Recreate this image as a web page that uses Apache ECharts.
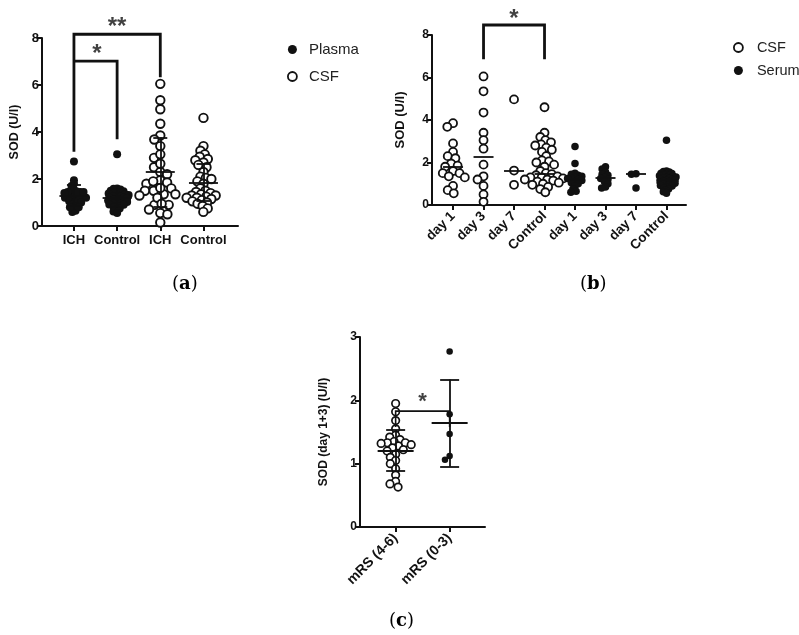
<!DOCTYPE html>
<html><head><meta charset="utf-8">
<script src="https://cdn.jsdelivr.net/npm/echarts@6/dist/echarts.min.js"></script>
<style>html,body{margin:0;padding:0;background:#fff}#c{width:799px;height:635px}</style>
</head><body><div id="c"></div>
<script>
// ---------- DATA ----------
// Panel (b): CSF
const csfDay1 = [3.85, 3.68, 2.9, 2.5, 2.3, 2.2, 1.95, 1.85, 1.8, 1.6, 1.5, 1.5, 1.35, 1.3, 0.9, 0.7, 0.55];
const csfDay3 = [6.05, 5.35, 4.35, 3.4, 3.05, 2.65, 1.9, 1.35, 1.2, 0.9, 0.5, 0.15];
const csfDay7 = [4.97, 1.62, 0.95];
const csfControl = [4.6, 3.4, 3.2, 3.05, 2.95, 2.85, 2.8, 2.7, 2.6, 2.5, 2.3, 2.1, 2.05, 2.0, 1.9, 1.8, 1.6, 1.5, 1.45, 1.4, 1.35, 1.3, 1.3, 1.25, 1.2, 1.2, 1.15, 1.1, 1.05, 1.0, 0.95, 0.85, 0.75, 0.6];
// Panel (b): Serum
const serumDay1 = [2.75, 1.95, 1.5, 1.45, 1.4, 1.35, 1.3, 1.25, 1.25, 1.2, 1.15, 1.1, 1.05, 1.0, 0.9, 0.75, 0.65, 0.6];
const serumDay3 = [1.8, 1.7, 1.55, 1.45, 1.4, 1.3, 1.25, 1.2, 1.1, 1.0, 0.85, 0.8];
const serumDay7 = [1.47, 1.45, 0.8];
const serumControl = [3.05, 1.6, 1.58, 1.55, 1.5, 1.48, 1.45, 1.42, 1.4, 1.38, 1.35, 1.32, 1.3, 1.28, 1.25, 1.22, 1.2, 1.18, 1.15, 1.12, 1.1, 1.08, 1.05, 1.02, 1.0, 0.98, 0.95, 0.92, 0.9, 0.85, 0.8, 0.75, 0.7, 0.62, 0.55];
const catsB = ['day 1', 'day 3', 'day 7', 'Control', 'day 1', 'day 3', 'day 7', 'Control'];
const medianB = [1.8, 2.27, 1.62, 1.45, 1.2, 1.3, 1.45, 1.2];
// Panel (a): groups (ICH = all days pooled)
const catsA = ['ICH', 'Control', 'ICH', 'Control'];
const plasmaICH = serumDay1.concat(serumDay3, serumDay7);
const plasmaControl = serumControl;
const csfICH = csfDay1.concat(csfDay3, csfDay7);
const meanA = [1.3, 1.2, 2.3, 1.86];
const sdA = [0.44, 0.4, 1.47, 0.8];
// Panel (c)
const catsC = ['mRS (4-6)', 'mRS (0-3)'];
const mrs46 = [1.95, 1.82, 1.68, 1.55, 1.45, 1.42, 1.38, 1.35, 1.33, 1.33, 1.32, 1.3, 1.28, 1.25, 1.22, 1.2, 1.15, 1.1, 1.05, 1.0, 0.92, 0.82, 0.72, 0.68, 0.63];
const mrs03 = [2.77, 1.78, 1.47, 1.12, 1.06];
const meanC = [1.21, 1.64];
const sdC = [0.32, 0.69];
const yTicksA = [0, 2, 4, 6, 8];
const yTicksC = [0, 1, 2, 3];

// ---------- LAYOUT ----------
const G = {
  a: {left: 42, top: 38, width: 196, height: 188, xmin: 0.26, xmax: 4.8, ymax: 8},
  b: {left: 432, top: 35, width: 254, height: 170, xmin: 0.31, xmax: 8.64, ymax: 8},
  c: {left: 360, top: 337, width: 125, height: 190, xmin: 0.34, xmax: 2.655, ymax: 3}
};
for (const k in G) { const g = G[k]; g.px = g.width / (g.xmax - g.xmin); g.py = g.height / g.ymax; }

// deterministic beeswarm layout (x offsets only; values unchanged)
function swarm(values, pos, g, sep) {
  const idx = values.map((v, i) => i).sort((a, b) => values[b] - values[a]);
  const placed = [], out = new Array(values.length);
  for (const i of idx) {
    const y = values[i] * g.py;
    const cands = [0];
    for (const p of placed) {
      const dy = Math.abs(p.y - y);
      if (dy < sep) { const dx = Math.sqrt(sep * sep - dy * dy); cands.push(p.x + dx, p.x - dx); }
    }
    cands.sort((a, b) => Math.abs(a) - Math.abs(b) || a - b);
    let best = 0;
    for (const c of cands) {
      if (placed.every(p => (p.x - c) ** 2 + (p.y - y) ** 2 >= sep * sep - 1e-6)) { best = c; break; }
    }
    placed.push({x: best, y});
    out[i] = [pos + best / g.px, values[i]];
  }
  return out;
}

const FONT = 'Liberation Sans, Arial, sans-serif';
const BLACK = '#111';
const series = [];
function pts(gi, g, name, values, pos, filled, size, sep, bw) {
  series.push({
    type: 'scatter', name, xAxisIndex: gi, yAxisIndex: gi, symbol: 'circle', symbolSize: size,
    data: swarm(values, pos, g, sep), z: 3, clip: false,
    itemStyle: filled ? {color: BLACK, borderWidth: 0, opacity: 1} : {color: '#fff', borderColor: BLACK, borderWidth: bw || 1.8, opacity: 1},
    emphasis: {disabled: true}
  });
}
function segs(gi, list, width, polyline) {
  series.push({
    type: 'lines', coordinateSystem: 'cartesian2d', xAxisIndex: gi, yAxisIndex: gi,
    polyline: !!polyline, clip: false, z: 5, silent: true,
    lineStyle: {color: BLACK, width: width, opacity: 1},
    data: list.map(c => ({coords: c}))
  });
}
function hseg(g, pos, y, hw) { return [[pos - hw / g.px, y], [pos + hw / g.px, y]]; }
function star(gi, x, y, txt, size) {
  series.push({
    type: 'scatter', xAxisIndex: gi, yAxisIndex: gi, symbolSize: 1, clip: false, silent: true,
    itemStyle: {color: 'rgba(0,0,0,0)'}, z: 6,
    label: {show: true, position: 'inside', formatter: '{b}', color: BLACK, fontSize: size, fontWeight: 'bold', fontFamily: FONT},
    data: [{name: txt, value: [x, y]}]
  });
}

// Panel (a)
pts(0, G.a, 'Plasma', plasmaICH, 1, true, 8, 3.4);
pts(0, G.a, 'Plasma', plasmaControl, 2, true, 8, 3.5);
pts(0, G.a, 'CSF', csfICH, 3, false, 8.5, 7.2, 1.9);
pts(0, G.a, 'CSF', csfControl, 4, false, 8.5, 5.6, 1.9);
{
  const L = [];
  meanA.forEach((m, i) => {
    const p = i + 1;
    L.push(hseg(G.a, p, m, 14.5));
    L.push(hseg(G.a, p, m + sdA[i], 7));
    L.push(hseg(G.a, p, m - sdA[i], 7));
    L.push([[p, m - sdA[i]], [p, m + sdA[i]]]);
  });
  segs(0, L, 1.8);
  segs(0, [[[1, 3.16], [1, 8.16], [3, 8.16], [3, 6.33]], [[1, 7.02], [2, 7.02], [2, 3.69]]], 2.8, true);
  star(0, 2, 8.45, '**', 24);
  star(0, 1.53, 7.32, '*', 24);
}
// Panel (b)
const csfB = [csfDay1, csfDay3, csfDay7, csfControl];
const serB = [serumDay1, serumDay3, serumDay7, serumControl];
const sepCsfB = [6.8, 6.8, 6.8, 6.0];
const sepSerB = [3.8, 4.0, 4.6, 3.0];
csfB.forEach((v, i) => pts(1, G.b, 'CSF', v, i + 1, false, 8, sepCsfB[i], 1.8));
serB.forEach((v, i) => pts(1, G.b, 'Serum', v, i + 5, true, 7.5, sepSerB[i]));
segs(1, medianB.map((m, i) => hseg(G.b, i + 1, m, 10)), 1.8);
segs(1, [[[2, 6.86], [2, 8.47], [4, 8.47], [4, 6.86]]], 2.8, true);
star(1, 3, 8.72, '*', 24);
// Panel (c)
pts(2, G.c, 'mRS (4-6)', mrs46, 1, false, 7.5, 6.2, 1.7);
pts(2, G.c, 'mRS (0-3)', mrs03, 2, true, 6.5, 6);
{
  const L = [];
  meanC.forEach((m, i) => {
    const p = i + 1;
    L.push(hseg(G.c, p, m, 18));
    L.push(hseg(G.c, p, m + sdC[i], 9.5));
    L.push(hseg(G.c, p, m - sdC[i], 9.5));
    L.push([[p, m - sdC[i]], [p, m + sdC[i]]]);
  });
  segs(2, L, 1.8);
  segs(2, [[[1, 1.58], [1, 1.83], [2, 1.83], [2, 1.58]]], 1.6, true);
  star(2, 1.5, 1.98, '*', 22);
}

function xAx(gi, g, cats, rot, fs, margin) {
  const vals = cats.map((c, i) => i + 1);
  return {
    type: 'value', gridIndex: gi, min: g.xmin, max: g.xmax,
    axisLine: {show: true, onZero: false, lineStyle: {color: BLACK, width: 2}},
    axisTick: {show: true, customValues: vals, length: 5, lineStyle: {color: BLACK, width: 2}},
    axisLabel: {show: true, customValues: vals, rotate: rot, margin: margin,
      formatter: v => cats[Math.round(v) - 1], color: BLACK, fontSize: fs, fontWeight: 'bold', fontFamily: FONT},
    splitLine: {show: false}
  };
}
function yAx(gi, g, name, gap, fs, nfs, ticks) {
  return {
    type: 'value', gridIndex: gi, min: 0, max: g.ymax, interval: ticks[1] - ticks[0],
    name, nameLocation: 'middle', nameRotate: 90, nameGap: gap,
    nameTextStyle: {color: BLACK, fontSize: nfs, fontWeight: 'bold', fontFamily: FONT},
    axisLine: {show: true, onZero: false, lineStyle: {color: BLACK, width: 2}},
    axisTick: {show: true, length: 5, lineStyle: {color: BLACK, width: 2}},
    axisLabel: {show: true, margin: 3, color: BLACK, fontSize: fs, fontWeight: 'bold', fontFamily: FONT},
    splitLine: {show: false}
  };
}
function grid(g) { return {left: g.left, top: g.top, width: g.width, height: g.height, containLabel: false, outerBoundsMode: 'none'}; }
function cap(x, y, letter) {
  return {type: 'text', left: x, top: y, silent: true, style: {
    text: '{n|(}{b|' + letter + '}{n|)}',
    rich: {n: {fontSize: 18, fontFamily: 'DejaVu Serif, serif', fill: '#000'},
           b: {fontSize: 18, fontFamily: 'DejaVu Serif, serif', fontWeight: 'bold', fill: '#000'}}
  }};
}

const chart = echarts.init(document.getElementById('c'), null, {renderer: 'canvas'});
chart.setOption({
  animation: false,
  backgroundColor: '#fff',
  grid: [grid(G.a), grid(G.b), grid(G.c)],
  xAxis: [xAx(0, G.a, catsA, 0, 13, 8), xAx(1, G.b, catsB, 45, 13.5, 9), xAx(2, G.c, catsC, 45, 14, 9)],
  yAxis: [yAx(0, G.a, 'SOD (U/l)', 21, 13, 12.5, yTicksA), yAx(1, G.b, 'SOD (U/l)', 25, 12, 13, yTicksA), yAx(2, G.c, 'SOD (day 1+3) (U/l)', 30, 12, 12, yTicksC)],
  legend: [
    {orient: 'vertical', left: 282, top: 37, itemWidth: 9, itemHeight: 9, itemGap: 12, selectedMode: false,
      textStyle: {fontSize: 15, color: '#222', fontFamily: FONT, padding: [0, 0, 0, 7]},
      data: [{name: 'Plasma', icon: 'circle', itemStyle: {color: BLACK, borderWidth: 0}},
             {name: 'CSF', icon: 'circle', itemStyle: {color: '#fff', borderColor: BLACK, borderWidth: 1.8}}]},
    {orient: 'vertical', left: 728, top: 35, itemWidth: 9, itemHeight: 9, itemGap: 8, selectedMode: false,
      textStyle: {fontSize: 14.5, color: '#222', fontFamily: FONT, padding: [0, 0, 0, 9]},
      data: [{name: 'CSF', icon: 'circle', itemStyle: {color: '#fff', borderColor: BLACK, borderWidth: 1.8}},
             {name: 'Serum', icon: 'circle', itemStyle: {color: BLACK, borderWidth: 0}}]}
  ],
  graphic: [cap(172, 275, 'a'), cap(580, 275, 'b'), cap(389, 612, 'c')],
  series
});
</script>
</body></html>
